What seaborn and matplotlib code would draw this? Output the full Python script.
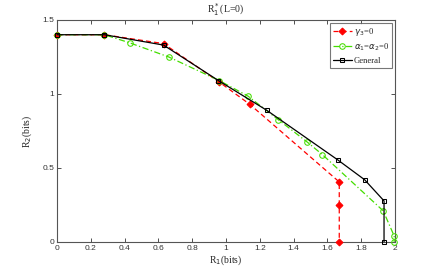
"""Rate region R1*(L=0): three achievable boundaries."""

import matplotlib
matplotlib.use("Agg")
import matplotlib.pyplot as plt
import numpy as np
import pandas as pd
import seaborn as sns

# gamma_3 = 0
r1_gamma = [0.0, 0.28, 0.63, 0.96, 1.14, 1.67, 1.67, 1.67]
r2_gamma = [1.40, 1.40, 1.34, 1.08, 0.93, 0.405, 0.25, 0.0]

# alpha_1 = alpha_2 = 0
r1_alpha = [0.0, 0.28, 0.43, 0.66, 0.96, 1.13, 1.31, 1.48, 1.57, 1.93, 1.995, 1.995]
r2_alpha = [1.40, 1.40, 1.345, 1.25, 1.09, 0.985, 0.825, 0.675, 0.59, 0.21, 0.04, 0.0]

# general
r1_gen = [0.0, 0.28, 0.63, 0.955, 1.24, 1.66, 1.82, 1.935, 1.935]
r2_gen = [1.40, 1.40, 1.33, 1.09, 0.89, 0.555, 0.42, 0.277, 0.0]

sns.set_style("ticks")
plt.rcParams["font.family"] = ["Liberation Sans", "DejaVu Sans"]

fig = plt.figure(figsize=(4.36, 2.73), dpi=100)
ax = fig.add_axes([0.131, 0.114, 0.775, 0.813])

df_g = pd.DataFrame({"r1": r1_gamma, "r2": r2_gamma})
df_a = pd.DataFrame({"r1": r1_alpha, "r2": r2_alpha})
df_n = pd.DataFrame({"r1": r1_gen, "r2": r2_gen})

common = dict(x="r1", y="r2", sort=False, estimator=None, ax=ax, lw=0.9,
              clip_on=False, zorder=3)
sns.lineplot(data=df_g, color="#ff0000", linestyle=(0, (4, 2.5)),
             marker="D", markersize=3.5, markerfacecolor="#ff0000",
             markeredgecolor="#ff0000", label=r"$\gamma_3$=0", **common)
sns.lineplot(data=df_a, color="#44dd00", linestyle=(0, (5, 2, 1, 2)),
             marker="o", markersize=4, markerfacecolor="none",
             markeredgecolor="#44dd00", label=r"$\alpha_1$=$\alpha_2$=0", **common)
sns.lineplot(data=df_n, color="black", marker="s", markersize=3.5,
             markerfacecolor="none", markeredgecolor="black",
             label="General", **common)

ax.set_xlim(0, 2)
ax.set_ylim(0, 1.5)
ax.set_xticks(np.arange(0, 2.01, 0.2))
ax.set_xticklabels(["0", "0.2", "0.4", "0.6", "0.8", "1", "1.2", "1.4",
                    "1.6", "1.8", "2"])
ax.set_yticks([0, 0.5, 1, 1.5])
ax.set_yticklabels(["0", "0.5", "1", "1.5"])
ax.tick_params(direction="in", length=3, width=0.6, labelsize=6,
               top=True, right=True, pad=2, colors="#333333")
for s in ax.spines.values():
    s.set_visible(True)
    s.set_linewidth(0.8)
    s.set_color("#555555")

serif = ["Liberation Serif", "DejaVu Serif"]
ax.set_xlabel(r"R$_1$(bits)", fontsize=7, family=serif, labelpad=1)
ax.set_ylabel(r"R$_2$(bits)", fontsize=7, family=serif, labelpad=6)
ax.set_title(r"R$_1^*$(L=0)", fontsize=7, family=serif, pad=5)

leg = ax.legend(loc="upper right", prop={"family": serif, "size": 6.2},
                frameon=True, fancybox=False, edgecolor="#555555",
                handlelength=2.2, borderpad=0.35, labelspacing=0.45,
                handletextpad=0.3, borderaxespad=0.3)
leg.get_frame().set_linewidth(0.8)
leg.set_zorder(5)

fig.savefig("out.png", dpi=100)
